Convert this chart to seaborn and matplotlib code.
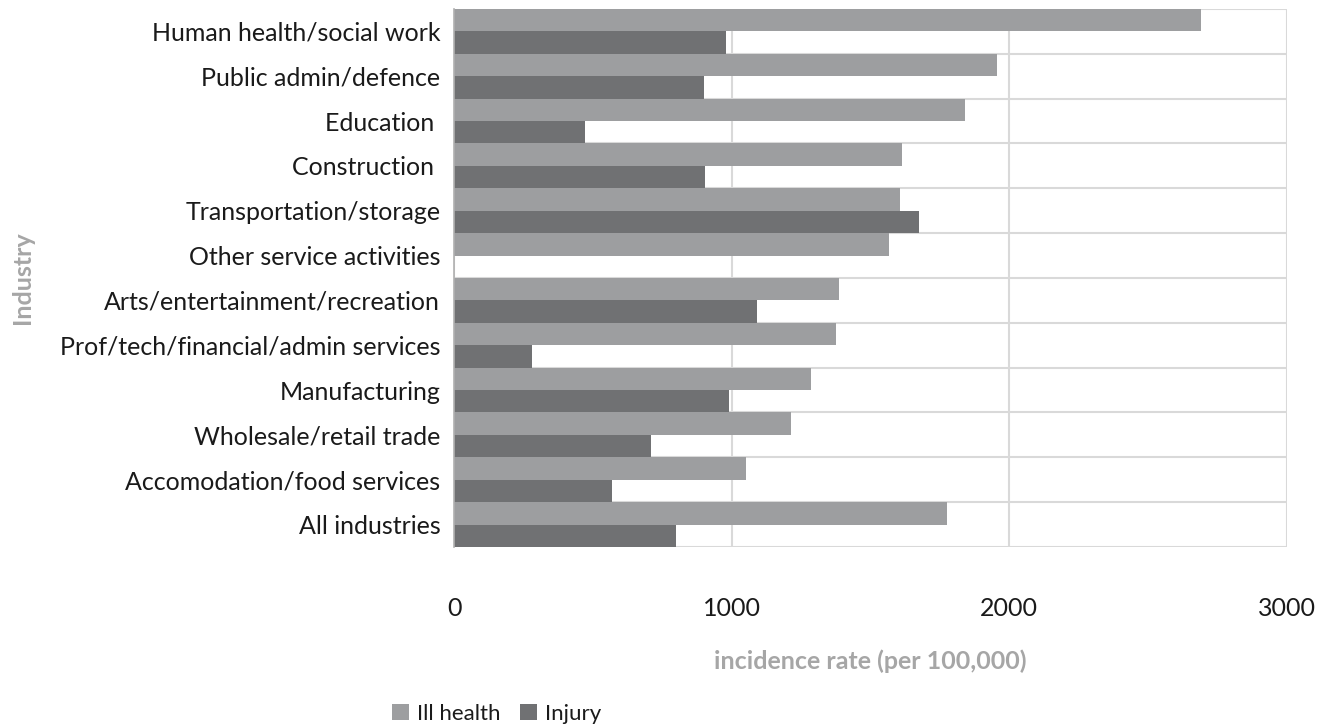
import numpy as np
import pandas as pd
import seaborn as sns
import matplotlib.pyplot as plt

industries = ["Human health/social work", "Public admin/defence", "Education ", "Construction ",
              "Transportation/storage", "Other service activities", "Arts/entertainment/recreation",
              "Prof/tech/financial/admin services", "Manufacturing", "Wholesale/retail trade",
              "Accomodation/food services", "All industries"]
ill_health = [2690, 1955, 1840, 1615, 1605, 1565, 1385, 1375, 1285, 1215, 1050, 1775]
injury = [980, 900, 470, 905, 1675, np.nan, 1090, 280, 990, 710, 570, 800]
series = ["Ill health", "Injury"]
colors = ["#9d9ea0", "#707173"]

df = pd.DataFrame({"industry": industries * 2,
                   "type": [series[0]] * len(industries) + [series[1]] * len(industries),
                   "rate": ill_health + injury})

sns.set_theme(style="white")
plt.rcParams['font.family'] = ['Lato', 'DejaVu Sans']

fig = plt.figure(figsize=(13.28, 7.26), dpi=100)
ax = fig.add_axes([0.342, 0.2466, 0.627, 0.741])

sns.barplot(data=df, y="industry", x="rate", hue="type", hue_order=series, order=industries,
            palette=colors, orient="h", width=1.0, ax=ax, legend=True, saturation=1,
            linewidth=0)

ax.set_xlim(0, 3000)
ax.set_ylim(len(industries) - 0.5, -0.5)
ax.set_xticks([0, 1000, 2000, 3000])
ax.set_yticks(np.arange(-0.5, len(industries), 1), minor=True)
ax.grid(which="minor", axis="y", color="#d9d9d9", lw=1.5)
ax.grid(which="major", axis="x", color="#d9d9d9", lw=1.5)
ax.set_axisbelow(True)
for s in ["top", "right", "bottom"]:
    ax.spines[s].set_visible(False)
ax.spines["left"].set_color("#b0b0b0")
ax.spines["left"].set_linewidth(1.2)

ax.tick_params(axis="y", which="both", length=0, pad=10, labelsize=18, labelcolor="#1a1a1a")
ax.tick_params(axis="x", length=0, pad=36, labelsize=18, labelcolor="#1a1a1a")

ax.set_xlabel("incidence rate (per 100,000)", fontsize=18, fontweight="bold", color="#a6a6a6")
ax.xaxis.set_label_coords(0.5, -0.19)
ax.set_ylabel("Industry", fontsize=18, fontweight="bold", color="#a6a6a6")
ax.yaxis.set_label_coords(-0.505, 0.5)

handles, labels = ax.get_legend_handles_labels()
ax.get_legend().remove()
fig.legend(handles, labels, loc="center", bbox_to_anchor=(0.374, 0.017), ncol=2, frameon=False,
           fontsize=16, handlelength=0.75, handleheight=0.75, handletextpad=0.35, columnspacing=0.9,
           labelcolor="#1a1a1a")

fig.savefig("out.png", dpi=100)
